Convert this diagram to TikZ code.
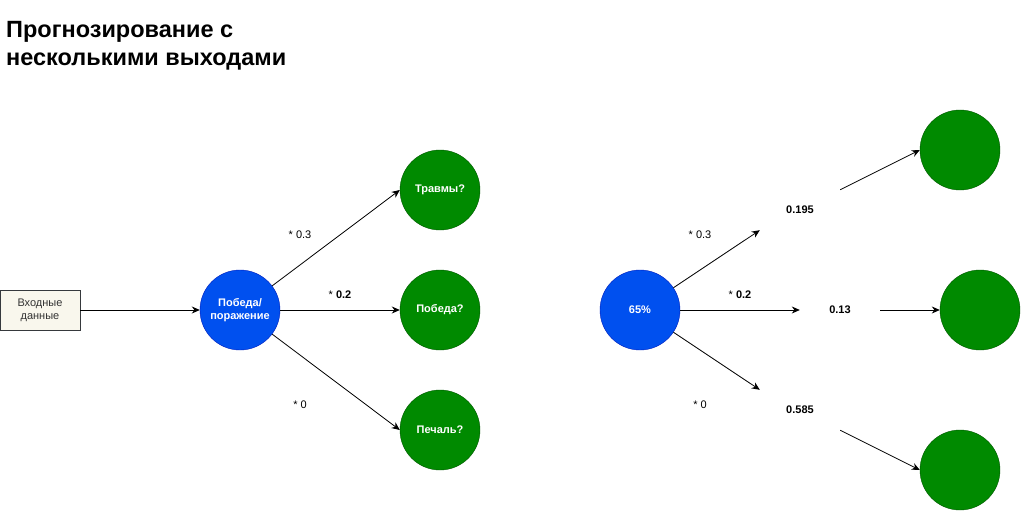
\documentclass[tikz,border=0pt]{standalone}
\usepackage{fontspec}
\setmainfont{Liberation Sans}
\usetikzlibrary{arrows.meta}
\definecolor{bluefill}{HTML}{0050EF}
\definecolor{bluestroke}{HTML}{001DBC}
\definecolor{greenfill}{HTML}{008A00}
\definecolor{greenstroke}{HTML}{005700}
\definecolor{boxfill}{HTML}{F9F7ED}
\definecolor{boxstroke}{HTML}{36393D}
\tikzset{
  bluenode/.style={circle, minimum size=80pt, inner sep=0pt, fill=bluefill, draw=bluestroke, text=white, font=\fontsize{11}{13}\selectfont\bfseries, align=center},
  greennode/.style={circle, minimum size=80pt, inner sep=0pt, fill=greenfill, draw=greenstroke, text=white, font=\fontsize{11}{13}\selectfont\bfseries, align=center},
  inbox/.style={rectangle, minimum width=80pt, minimum height=40pt, inner sep=0pt, fill=boxfill, draw=boxstroke, text=black!80, font=\fontsize{11}{13}\selectfont, align=center},
  valbox/.style={rectangle, minimum width=80pt, minimum height=40pt, inner sep=0pt, font=\fontsize{11}{13}\selectfont\bfseries},
  wlabel/.style={font=\fontsize{11}{13}\selectfont, inner sep=0pt},
  conn/.style={-{Stealth[length=8pt,width=7pt]}, line width=0.8pt}
}
\begin{document}
\begin{tikzpicture}[x=1pt,y=-1pt]
\useasboundingbox (0,0) rectangle (1021,511);
\node[anchor=base west, inner sep=0pt, align=left, font=\fontsize{23.5}{28}\selectfont\bfseries] (title) at (6,66) {Прогнозирование с\\несколькими выходами};

% left diagram
\node[inbox] (in) at (40,310) {Входные\\данные};
\node[bluenode] (win) at (240,310) {Победа/\\поражение};
\node[greennode] (g1) at (440,190) {Травмы?};
\node[greennode] (g2) at (440,310) {Победа?};
\node[greennode] (g3) at (440,430) {Печаль?};
\draw[conn] (in) -- (win);
\draw[conn] (win) -- (g1.west);
\draw[conn] (win) -- (g2);
\draw[conn] (win) -- (g3.west);
\node[wlabel] (w1) at (300,235) {* 0.3};
\node[wlabel] (w2) at (340,295) {* \textbf{0.2}};
\node[wlabel] (w3) at (300,405) {* 0};

% right diagram
\node[bluenode] (p) at (640,310) {65\%};
\node[valbox] (v1) at (800,210) {0.195};
\node[valbox] (v2) at (840,310) {0.13};
\node[valbox] (v3) at (800,410) {0.585};
\node[greennode] (r1) at (960,150) {};
\node[greennode] (r2) at (980,310) {};
\node[greennode] (r3) at (960,470) {};
\draw[conn] (p) -- (v1.south west);
\draw[conn] (p) -- (v2.west);
\draw[conn] (p) -- (v3.north west);
\draw[conn] (v1.north east) -- (r1.west);
\draw[conn] (v2.east) -- (r2.west);
\draw[conn] (v3.south east) -- (r3.west);
\node[wlabel] (x1) at (700,235) {* 0.3};
\node[wlabel] (x2) at (740,295) {* \textbf{0.2}};
\node[wlabel] (x3) at (700,405) {* 0};
\end{tikzpicture}
\end{document}
